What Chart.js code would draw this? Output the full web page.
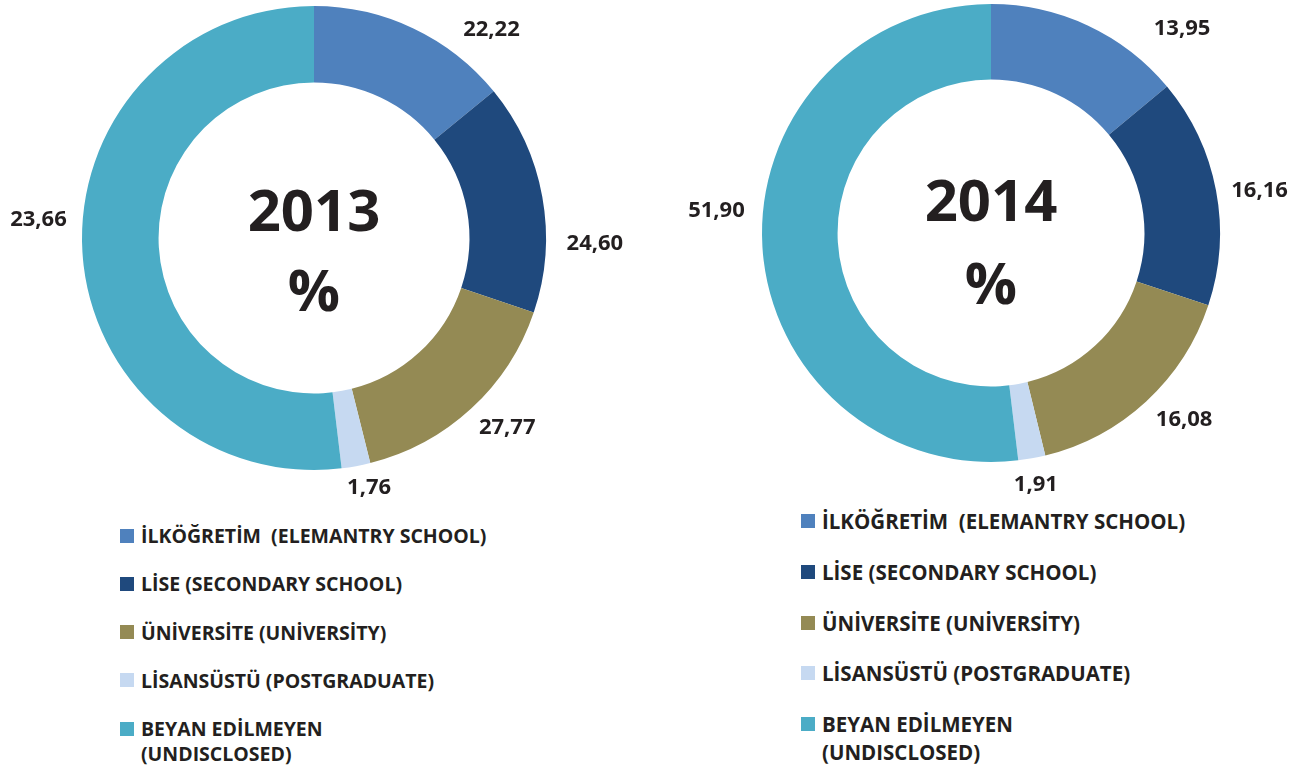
<!DOCTYPE html>
<html>
<head>
<meta charset="utf-8">
<script src="https://cdn.jsdelivr.net/npm/chart.js@4"></script>
<style>
  html, body { margin: 0; padding: 0; background: #fff; }
  body { width: 1309px; height: 770px; position: relative; overflow: hidden; font-family: 'Open Sans', sans-serif; }
  .box { position: absolute; top: 0; height: 500px; }
  .legend { position: absolute; color: #231F20; font-weight: bold; }
  .legend .item { position: absolute; left: 0; white-space: pre; padding-left: 21px; }
  .legend .sw { position: absolute; left: 0; width: 14px; height: 14px; }
</style>
</head>
<body>
<div class="box" style="left:0;width:654px"><canvas id="c2013"></canvas></div>
<div class="box" style="left:654px;width:655px"><canvas id="c2014"></canvas></div>
<div class="legend" id="leg2013" style="left:120px;top:523px"></div>
<div class="legend" id="leg2014" style="left:801px;top:507px"></div>
<script>
const categories = [
  'İLKÖĞRETİM  (ELEMANTRY SCHOOL)',
  'LİSE (SECONDARY SCHOOL)',
  'ÜNİVERSİTE (UNİVERSİTY)',
  'LİSANSÜSTÜ (POSTGRADUATE)',
  'BEYAN EDİLMEYEN\n(UNDISCLOSED)'
];
const colors = ['#4F81BD', '#1F497D', '#948A54', '#C6D9F1', '#4BACC6'];

// 2013: printed labels don't match the ring in the source, ring kept as drawn
const labels2013 = [22.22, 24.60, 27.77, 1.76, 23.66];
const slices2013 = [14.1, 16.1, 15.9, 2.0, 51.9];
const values2014 = [13.95, 16.16, 16.08, 1.91, 51.90];

const textColor = '#231F20';

function fmt(v) {
  return v.toFixed(2).replace('.', ',');
}

// draws the value labels and the year in the middle
const ringText = {
  id: 'ringText',
  afterDraw(chart, args, opts) {
    const ctx = chart.ctx;
    const arcs = chart.getDatasetMeta(0).data;
    ctx.save();
    ctx.fillStyle = textColor;
    ctx.textAlign = 'center';
    ctx.textBaseline = 'middle';
    ctx.font = 'bold 22px "Open Sans"';
    arcs.forEach((arc, i) => {
      const mid = (arc.startAngle + arc.endAngle) / 2;
      const d = arc.outerRadius + 28;
      const nudge = opts.nudges[i];
      const x = arc.x + Math.cos(mid) * d + nudge[0];
      const y = arc.y + Math.sin(mid) * d + nudge[1];
      ctx.fillText(fmt(opts.texts[i]), x, y);
    });
    const cx = arcs[0].x, cy = arcs[0].y;
    ctx.font = 'bold 58px "Open Sans"';
    ctx.fillText(opts.year, cx, cy + opts.yearDy);
    ctx.fillText('%', cx, cy + opts.pctDy);
    ctx.restore();
  }
};

function makeChart(id, slices, texts, year, pad, nudges, yearDy, pctDy) {
  new Chart(document.getElementById(id), {
    type: 'doughnut',
    data: {
      labels: categories,
      datasets: [{
        data: slices,
        backgroundColor: colors,
        borderWidth: 0
      }]
    },
    options: {
      responsive: true,
      maintainAspectRatio: false,
      animation: false,
      cutout: '67%',
      layout: { padding: pad },
      plugins: {
        legend: { display: false },
        tooltip: { enabled: false },
        ringText: { texts: texts, year: year, nudges: nudges, yearDy: yearDy, pctDy: pctDy }
      }
    },
    plugins: [ringText]
  });
}

makeChart('c2013', slices2013, labels2013, '2013',
  { left: 82, top: 6, right: 108, bottom: 30 },
  [[66, 27], [25, 52], [17, -1], [8, -6], [-16, -34]], -24, 56);
makeChart('c2014', values2014, values2014, '2014',
  { left: 108, top: 4, right: 89, bottom: 38 },
  [[82, 28], [16, 5], [19, -2], [-1, -1], [-18, -38]], -29, 54);

function buildLegend(id, step, size, lh) {
  const el = document.getElementById(id);
  el.style.fontSize = size + 'px';
  categories.forEach((name, i) => {
    const item = document.createElement('div');
    item.className = 'item';
    item.style.top = (i * step) + 'px';
    item.style.lineHeight = lh + 'px';
    item.textContent = name;
    const sw = document.createElement('span');
    sw.className = 'sw';
    sw.style.top = ((lh - 14) / 2) + 'px';
    sw.style.background = colors[i];
    item.appendChild(sw);
    el.appendChild(item);
  });
}
buildLegend('leg2013', 48.3, 19.5, 25);
buildLegend('leg2014', 50.8, 20.5, 28);
</script>
</body>
</html>
